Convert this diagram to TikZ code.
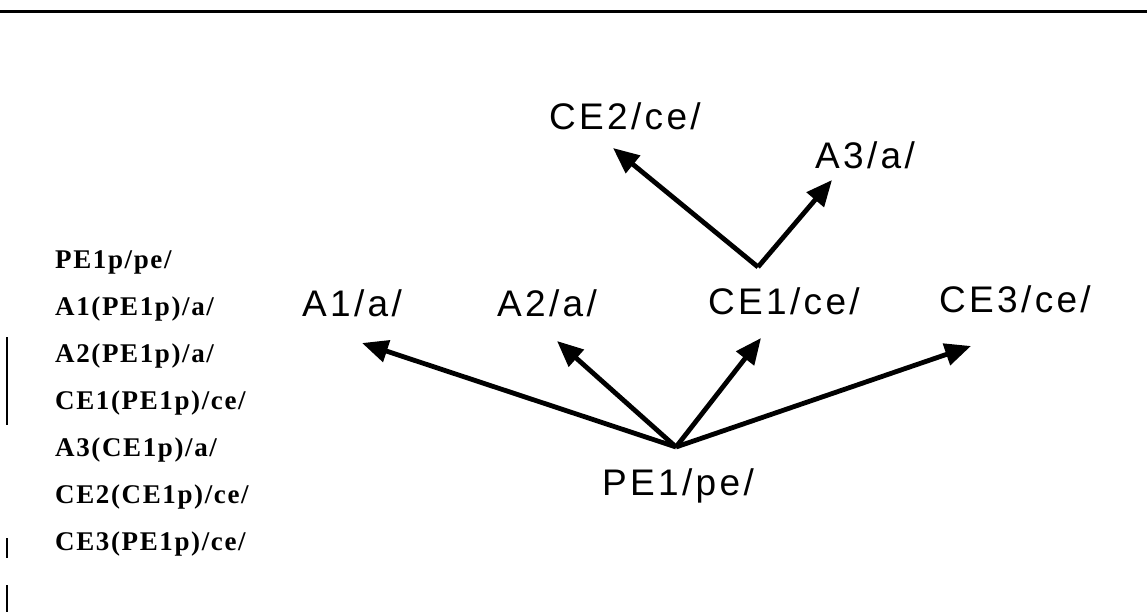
\documentclass[tikz,border=0pt]{standalone}
\usepackage{fontspec}
\usetikzlibrary{arrows.meta}
\newfontfamily\labfont[LetterSpace=9]{Liberation Sans}
\newfontfamily\listfont[LetterSpace=6]{Liberation Serif}
\begin{document}
\begin{tikzpicture}[x=1pt,y=-1pt,
  lab/.style={font=\labfont\fontsize{37}{40}\selectfont, inner sep=0pt, anchor=base west},
  lst/.style={font=\listfont\bfseries\fontsize{27}{29}\selectfont, inner sep=0pt, anchor=base west},
  arr/.style={line width=4.8pt, -{Triangle[length=26pt,width=22pt]}},
  rule/.style={line width=3pt},
  scanmark/.style={line width=1.2pt}]
\useasboundingbox (0,0) rectangle (1147,612);
% scan rules
\draw[rule] (0,12) -- (1147,12);
\draw[scanmark] (7,337) -- (7,425);
\draw[scanmark] (7,538) -- (7,558);
\draw[scanmark] (7,585) -- (7,612);
% list
\node[lst] (l1) at (55,268) {PE1p/pe/};
\node[lst] (l2) at (55,315) {A1(PE1p)/a/};
\node[lst] (l3) at (55,362) {A2(PE1p)/a/};
\node[lst] (l4) at (55,409) {CE1(PE1p)/ce/};
\node[lst] (l5) at (55,456) {A3(CE1p)/a/};
\node[lst] (l6) at (55,503) {CE2(CE1p)/ce/};
\node[lst] (l7) at (55,550) {CE3(PE1p)/ce/};
% labels
\node[lab] (a1) at (302,316) {A1/a/};
\node[lab] (a2) at (497,316) {A2/a/};
\node[lab] (ce1) at (708,314) {CE1/ce/};
\node[lab] (ce3) at (939,312) {CE3/ce/};
\node[lab] (ce2) at (549,130) {CE2/ce/};
\node[lab] (a3) at (815,169) {A3/a/};
\node[lab] (pe1) at (602,495) {PE1/pe/};
% connector ends
\coordinate (pe1v) at (676,447);
\coordinate (ce1v) at (758,267);
\coordinate (a1t) at (362,343);
\coordinate (a2t) at (557,341);
\coordinate (ce1t) at (761,338);
\coordinate (ce3t) at (971,346);
\coordinate (ce2t) at (613,148);
\coordinate (a3t) at (832,180);
\draw[arr] (pe1v) -- (a1t);
\draw[arr] (pe1v) -- (a2t);
\draw[arr] (pe1v) -- (ce1t);
\draw[arr] (pe1v) -- (ce3t);
\draw[arr] (ce1v) -- (ce2t);
\draw[arr] (ce1v) -- (a3t);
\end{tikzpicture}
\end{document}
